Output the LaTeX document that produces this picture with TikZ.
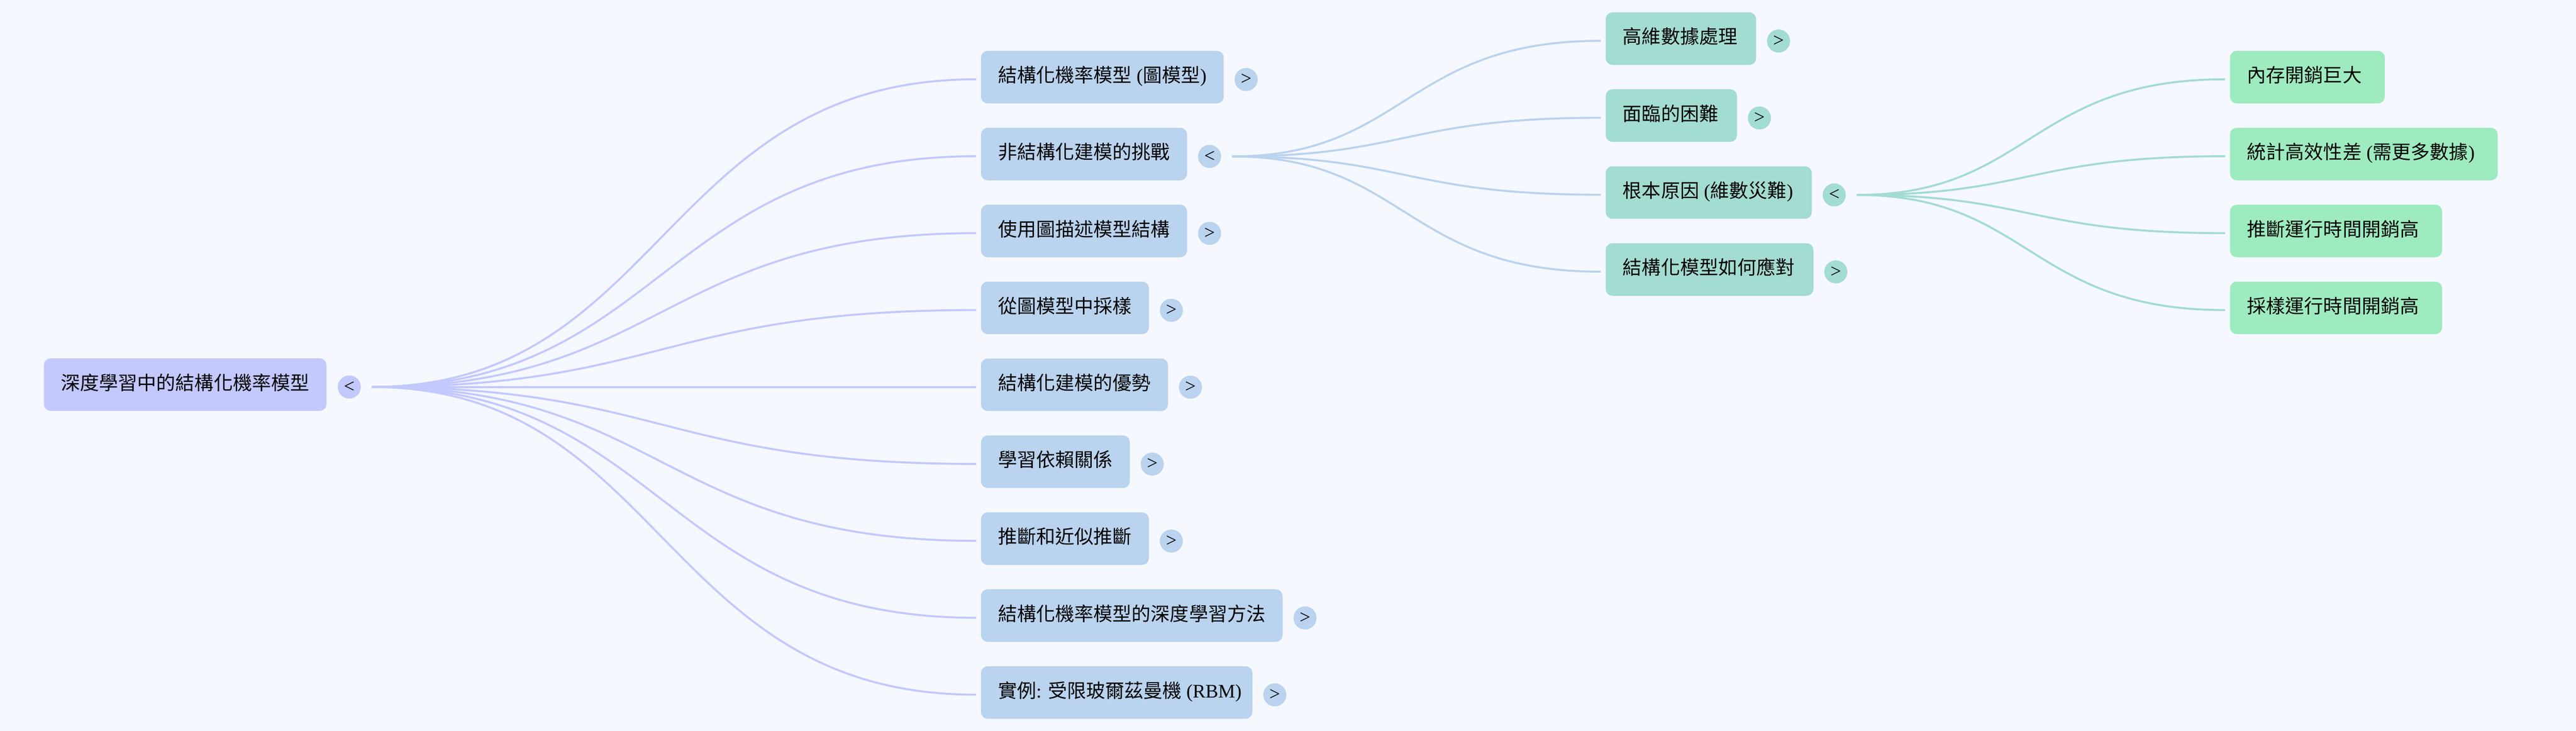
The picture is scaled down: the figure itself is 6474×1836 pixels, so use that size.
\documentclass[tikz,border=0pt]{standalone}
\usepackage{fontspec}
\setmainfont{Liberation Serif}
\newfontfamily\cjkfont{Noto Sans CJK TC}
\newcommand\zh[1]{{\cjkfont #1}}
\usetikzlibrary{calc}
\definecolor{bgc}{HTML}{F5F8FE}
\definecolor{rootc}{HTML}{C3C8FD}
\definecolor{lonec}{HTML}{BAD3EE}
\definecolor{ltwoc}{HTML}{A3DCD1}
\definecolor{lthreec}{HTML}{9DEBBF}
\newcommand\mmlink[3][]{%
  \draw[link,#1] let \p1=(#2), \p2=(#3) in
    (\p1) .. controls ({0.5*\x1+0.5*\x2-14.25pt},\y1) and ({0.5*\x1+0.5*\x2-14.25pt},\y2) .. (\p2);}
\tikzset{
  mmbox/.style={rounded corners=8.5pt, minimum height=66pt, inner xsep=21.5pt, inner ysep=0pt,
    anchor=west, font=\fontsize{24pt}{28pt}\selectfont, text height=21pt, text depth=8pt, text=black},
  rootbox/.style={mmbox, fill=rootc},
  lonebox/.style={mmbox, fill=lonec},
  ltwobox/.style={mmbox, fill=ltwoc, execute at end node={\kern2pt}},
  lthreebox/.style={mmbox, fill=lthreec, execute at end node={\kern7.5pt}},
  tog/.style={circle, inner sep=0pt, minimum size=29pt, font=\fontsize{24pt}{28pt}\selectfont, text=black},
  link/.style={line width=2.5pt, line cap=butt}
}
\begin{document}
\begin{tikzpicture}[x=0.5pt,y=-0.5pt]
\fill[bgc] (0,0) rectangle (6474,1836);
\useasboundingbox (0,0) rectangle (6474,1836);

% root
\node[rootbox] (root) at (110,966) {\zh{深度學習中的結構化機率模型}};
\node[tog, fill=rootc] (tgroot) at ($(root.east)+(57,6)$) {<};
\coordinate (rooto) at ($(tgroot)+(57,0)$);

% level 1
\node[lonebox] (a1) at (2465,193.7) {\zh{結構化機率模型} (\zh{圖模型})};
\node[lonebox] (a2) at (2465,386.9) {\zh{非結構化建模的挑戰}};
\node[lonebox] (a3) at (2465,580.1) {\zh{使用圖描述模型結構}};
\node[lonebox] (a4) at (2465,773.3) {\zh{從圖模型中採樣}};
\node[lonebox] (a5) at (2465,966.5) {\zh{結構化建模的優勢}};
\node[lonebox] (a6) at (2465,1159.7) {\zh{學習依賴關係}};
\node[lonebox] (a7) at (2465,1352.9) {\zh{推斷和近似推斷}};
\node[lonebox] (a8) at (2465,1546.1) {\zh{結構化機率模型的深度學習方法}};
\node[lonebox] (a9) at (2465,1739.3) {\zh{實例}: \zh{受限玻爾茲曼機} (RBM)\kern-8pt};

\node[tog, fill=lonec] (tga1) at ($(a1.east)+(56,6)$) {>};
\node[tog, fill=lonec] (tga2) at ($(a2.east)+(56,6)$) {<};
\node[tog, fill=lonec] (tga3) at ($(a3.east)+(56,6)$) {>};
\node[tog, fill=lonec] (tga4) at ($(a4.east)+(56,6)$) {>};
\node[tog, fill=lonec] (tga5) at ($(a5.east)+(56,6)$) {>};
\node[tog, fill=lonec] (tga6) at ($(a6.east)+(56,6)$) {>};
\node[tog, fill=lonec] (tga7) at ($(a7.east)+(56,6)$) {>};
\node[tog, fill=lonec] (tga8) at ($(a8.east)+(56,6)$) {>};
\node[tog, fill=lonec] (tga9) at ($(a9.east)+(56,6)$) {>};
\coordinate (a2o) at ($(tga2)+(57,0)$);

% level 2
\node[ltwobox] (b1) at (4035,97) {\zh{高維數據處理}};
\node[ltwobox] (b2) at (4035,290.3) {\zh{面臨的困難}};
\node[ltwobox] (b3) at (4035,483.6) {\zh{根本原因} (\zh{維數災難})};
\node[ltwobox] (b4) at (4035,676.9) {\zh{結構化模型如何應對}};
\node[tog, fill=ltwoc] (tgb1) at ($(b1.east)+(56,6)$) {>};
\node[tog, fill=ltwoc] (tgb2) at ($(b2.east)+(56,6)$) {>};
\node[tog, fill=ltwoc] (tgb3) at ($(b3.east)+(56,6)$) {<};
\node[tog, fill=ltwoc] (tgb4) at ($(b4.east)+(56,6)$) {>};
\coordinate (b3o) at ($(tgb3)+(57,0)$);

% level 3
\node[lthreebox] (c1) at (5604,193.7) {\zh{內存開銷巨大}};
\node[lthreebox] (c2) at (5604,386.9) {\zh{統計高效性差} (\zh{需更多數據})};
\node[lthreebox] (c3) at (5604,580.1) {\zh{推斷運行時間開銷高}};
\node[lthreebox] (c4) at (5604,773.3) {\zh{採樣運行時間開銷高}};

% entry points
\foreach \k in {a1,a2,a3,a4,a5,a6,a7,a8,a9,b1,b2,b3,b4,c1,c2,c3,c4}{
  \coordinate (\k i) at ($(\k.west)+(-12,5.5)$);
}

% connectors
\foreach \k in {a1,a2,a3,a4,a5,a6,a7,a8,a9}{ \mmlink[rootc]{rooto}{\k i} }
\foreach \k in {b1,b2,b3,b4}{ \mmlink[lonec]{a2o}{\k i} }
\foreach \k in {c1,c2,c3,c4}{ \mmlink[ltwoc]{b3o}{\k i} }
\end{tikzpicture}
\end{document}
